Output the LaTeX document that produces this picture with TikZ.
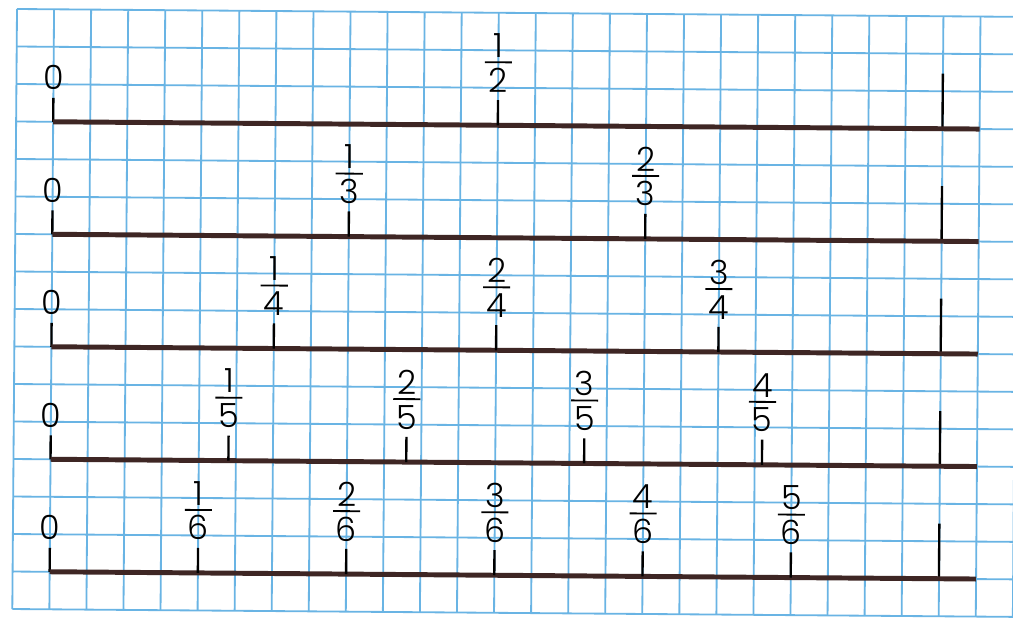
\documentclass[tikz,border=0pt]{standalone}
\usepackage{fontspec}
\IfFontExistsTF{Poppins Light}{\setmainfont{Poppins Light}}{\setmainfont{Poppins}}
\usepackage{tikz}
\usetikzlibrary{positioning}
\definecolor{gridblue}{RGB}{105,180,228}
\definecolor{linebrown}{RGB}{62,38,36}
\tikzset{
  %% Graph paper rule
  gridline/.style={draw=gridblue, line width=0.7pt},
  %% Number line
  numline/.style={draw=linebrown, line width=1.9pt, line cap=butt},
  %% Tick mark
  tickmark/.style={draw=black, line width=0.9pt},
  %% Digit label
  digit/.style={font=\fontsize{12.8}{14}\selectfont,
                inner sep=0pt, anchor=base},
  %% Fraction bar
  fracbar/.style={draw=black, line width=0.7pt},
}

\begin{document}
\begin{tikzpicture}[x=0.5cm, y=0.506cm]
  \useasboundingbox (0,0) rectangle (27.335,16.48);
  \fill[white] (0,0) rectangle (27.335,16.48);
  \clip (0,0) rectangle (27.335,16.48);
  \begin{scope}[shift={(0.459,16.24)}, rotate=-0.45]
    %% graph paper
    \foreach \i in {0,...,28}
      \draw[gridline] (\i,0) -- (\i,-16);
    \foreach \j in {0,...,16}
      \draw[gridline] (0,-\j) -- (28,-\j);
    %% number lines
    \foreach \r/\n in {1/2,2/3,3/4,4/5,5/6}{
      \pgfmathsetmacro\y{-3*\r}
      \pgfmathtruncatemacro\m{\n-1}
      \coordinate (s\r) at (1,\y);
      \coordinate (e\r) at (26,\y);
      \coordinate (one\r) at (25,\y);
      \coordinate (stop\r) at (1,\y+0.64);
      \coordinate (onetop\r) at (25,\y+1.47);
      \draw[tickmark] (s\r) -- (stop\r);
      \node[digit] (zero\r) at (1,\y+0.85) {0};
      \draw[tickmark] (one\r) -- (onetop\r);
      \draw[numline] (s\r) -- (e\r);
      \foreach \k in {1,...,\m}{
        \pgfmathsetmacro\xk{1+24*\k/\n}
        \coordinate (t\r\k) at (\xk,\y);
        \coordinate (ttop\r\k) at (\xk,\y+0.67);
        \draw[tickmark] (t\r\k) -- (ttop\r\k);
        \node[digit] (den\r\k) at (\xk,\y+0.88) {\n};
        \node[digit] (num\r\k) at (\xk,\y+1.81) {\k};
        \draw[fracbar] (\xk-0.365,\y+1.68) -- (\xk+0.365,\y+1.68);
      }
    }
  \end{scope}
\end{tikzpicture}
\end{document}
